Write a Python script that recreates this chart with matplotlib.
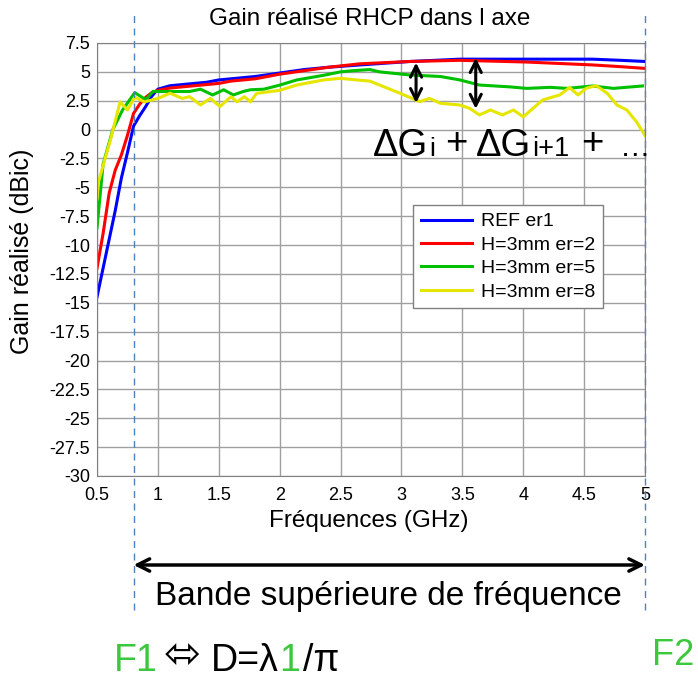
import numpy as np
import matplotlib
matplotlib.use("Agg")
import matplotlib.pyplot as plt
import matplotlib.transforms as mtransforms

plt.rcParams['font.family'] = ['Liberation Sans', 'DejaVu Sans']

# --- donnees ---
f_ref = [0.5, 0.55, 0.6, 0.65, 0.7, 0.75, 0.8, 0.85, 0.9, 0.95, 1.0, 1.1, 1.2, 1.3, 1.4,
         1.5, 1.6, 1.8, 2.0, 2.2, 2.4, 2.66, 3.07, 3.48, 4.03, 4.57, 4.8, 5.0]
g_ref = [-14.5, -12.0, -9.5, -7.0, -4.2, -2.0, 0.3, 1.2, 2.0, 2.9, 3.5, 3.8, 3.9, 4.0, 4.1,
         4.3, 4.4, 4.6, 4.9, 5.2, 5.4, 5.6, 5.9, 6.1, 6.1, 6.1, 6.0, 5.9]

f_er2 = [0.5, 0.55, 0.6, 0.65, 0.7, 0.75, 0.8, 0.85, 0.9, 0.95, 1.0, 1.1, 1.2, 1.3, 1.4,
         1.5, 1.6, 1.8, 2.0, 2.2, 2.4, 2.66, 3.07, 3.48, 4.03, 4.57, 4.8, 5.0]
g_er2 = [-12.0, -9.0, -5.5, -3.5, -2.2, -0.5, 1.4, 2.2, 2.8, 3.2, 3.4, 3.6, 3.7, 3.8, 3.9,
         4.0, 4.2, 4.4, 4.8, 5.1, 5.4, 5.7, 5.9, 6.0, 5.85, 5.6, 5.45, 5.3]

f_er5 = [0.5, 0.55, 0.63, 0.71, 0.81, 0.9, 0.96, 1.0, 1.13, 1.26, 1.35, 1.45, 1.54, 1.62,
         1.7, 1.76, 1.87, 2.0, 2.14, 2.25, 2.36, 2.5, 2.6, 2.74, 2.82, 3.07, 3.32, 3.48, 3.64,
         3.89, 4.03, 4.22, 4.36, 4.57, 4.74, 4.98]
g_er5 = [-8.5, -3.0, 0.0, 1.7, 3.2, 2.6, 3.3, 3.3, 3.3, 3.3, 3.5, 3.0, 3.45, 3.0,
         3.3, 3.45, 3.5, 3.85, 4.3, 4.5, 4.7, 5.0, 5.1, 5.2, 5.0, 4.73, 4.6, 4.3, 3.86,
         3.7, 3.57, 3.66, 3.57, 3.78, 3.57, 3.78]

f_er8 = [0.5, 0.51, 0.61, 0.69, 0.75, 0.81, 0.89, 1.0, 1.1, 1.2, 1.26, 1.35, 1.43, 1.51,
         1.6, 1.65, 1.71, 1.76, 1.81, 2.0, 2.14, 2.36, 2.5, 2.63, 2.74, 2.82, 2.99, 3.15,
         3.23, 3.32, 3.48, 3.56, 3.64, 3.73, 3.83, 3.92, 4.0, 4.08, 4.16, 4.3, 4.38, 4.45,
         4.52, 4.6, 4.69, 4.77, 4.85, 4.93, 5.0]
g_er8 = [-6.0, -4.6, -0.9, 2.4, 1.7, 2.8, 2.4, 2.7, 3.15, 2.7, 2.85, 2.13, 2.7, 2.0,
         2.85, 2.4, 2.85, 2.4, 3.14, 3.4, 3.86, 4.3, 4.44, 4.3, 4.2, 3.86, 3.14, 2.42,
         2.7, 2.28, 2.13, 1.84, 1.27, 1.7, 1.27, 1.7, 1.1, 1.84, 2.57, 3.0, 3.64, 3.0,
         3.6, 3.8, 3.14, 2.13, 1.7, 0.68, -0.5]

labels = ['REF er1', 'H=3mm er=2', 'H=3mm er=5', 'H=3mm er=8']
colors = ['#0000ff', '#ff0000', '#00c000', '#e6e600']

x_ticks = [0.5, 1, 1.5, 2, 2.5, 3, 3.5, 4, 4.5, 5]
y_ticks = np.arange(-30, 7.6, 2.5)

f1, f2 = 0.8, 5.0
arrows = [(3.12, 5.8, 2.3), (3.61, 6.2, 1.8)]

W, H = 698, 679
fig = plt.figure(figsize=(W / 100, H / 100), dpi=100)
ax = fig.add_axes([97 / W, 1 - 476 / H, 548 / W, 433 / H])

for f, g, lab, c in zip([f_ref, f_er2, f_er5, f_er8], [g_ref, g_er2, g_er5, g_er8], labels, colors):
    ax.plot(f, g, color=c, lw=2.2, label=lab)

ax.set_xlim(0.5, 5)
ax.set_ylim(-30, 7.5)
ax.set_xticks(x_ticks)
ax.set_xticklabels([f'{v:g}' for v in x_ticks])
ax.set_yticks(y_ticks)
ax.set_yticklabels([f'{v:g}' for v in y_ticks])
ax.tick_params(length=0, labelsize=13)
ax.tick_params(axis='x', pad=8)
ax.tick_params(axis='y', pad=5)
ax.grid(True, color='#a0a0a0', lw=1)
for s in ax.spines.values():
    s.set_color('#808080')

ax.set_xlabel('Fréquences (GHz)', fontsize=17.5, va='center')
ax.xaxis.set_label_coords(0.495, -0.104)
ax.set_ylabel('Gain réalisé (dBic)', fontsize=18, va='center')
ax.yaxis.set_label_coords(-0.137, 0.52)
fig.text(370 / W, 1 - 19 / H, 'Gain réalisé RHCP dans l axe', fontsize=17.5,
         ha='center', va='center')

leg = ax.legend(loc='upper left', bbox_to_anchor=(0.577, 0.626), fontsize=14,
                handlelength=2.6, labelspacing=0.3, fancybox=False, framealpha=1,
                edgecolor='#808080', borderpad=0.4, handletextpad=0.5, borderaxespad=0)
leg.get_frame().set_linewidth(1)

# doubles fleches Delta G
for fx, top, bot in arrows:
    ax.annotate('', xy=(fx, bot), xytext=(fx, top),
                arrowprops=dict(arrowstyle='<->', color='black', lw=2.2, mutation_scale=20,
                                shrinkA=0, shrinkB=0))

# lignes pointillees F1 / F2 (depassent de l'axe)
trans = mtransforms.blended_transform_factory(ax.transData, fig.transFigure)
for fx in (f1, f2):
    ax.plot([fx, fx], [1 - 610 / H, 1 - 15 / H], transform=trans, color='#4f81bd',
            lw=1, ls=(0, (5, 4)), clip_on=False)

# fleche bande superieure
ax.annotate('', xy=(f2, 1 - 565 / H), xytext=(f1, 1 - 565 / H),
            xycoords=trans, textcoords=trans,
            arrowprops=dict(arrowstyle='<->', color='black', lw=2.5, mutation_scale=22,
                            shrinkA=0, shrinkB=0))
fig.text(388 / W, 1 - 597 / H, 'Bande supérieure de fréquence', fontsize=24,
         ha='center', va='center')

renderer = fig.canvas.get_renderer()


def put_pieces(x0, y0, pieces):
    x = x0
    for s, size, color, gap, dy in pieces:
        t = fig.text(x / W, 1 - (y0 + dy) / H, s, fontsize=size, color=color,
                     ha='left', va='baseline')
        x += t.get_window_extent(renderer).width + gap


put_pieces(373, 156, [('ΔG', 27.5, 'black', 1, 0), ('i', 19, 'black', 10, 0),
                      ('+', 27.5, 'black', 8, -2), ('ΔG', 27.5, 'black', 1, 0),
                      ('i+1', 19.5, 'black', 12, 0), ('+', 27.5, 'black', 17, -2),
                      ('…', 22, 'black', 0, 0)])

green = '#3cc83c'
put_pieces(114, 671, [('F1', 27, green, 6, 0), ('⬄', 32, 'black', 10, -3),
                      ('D=λ', 27, 'black', 0, 0), ('1', 27, green, 3, 0),
                      ('/π', 27, 'black', 0, 0)])
fig.text(652 / W, 1 - 665 / H, 'F2', fontsize=26, color=green, ha='left', va='baseline')

fig.savefig('out.png', dpi=100)
